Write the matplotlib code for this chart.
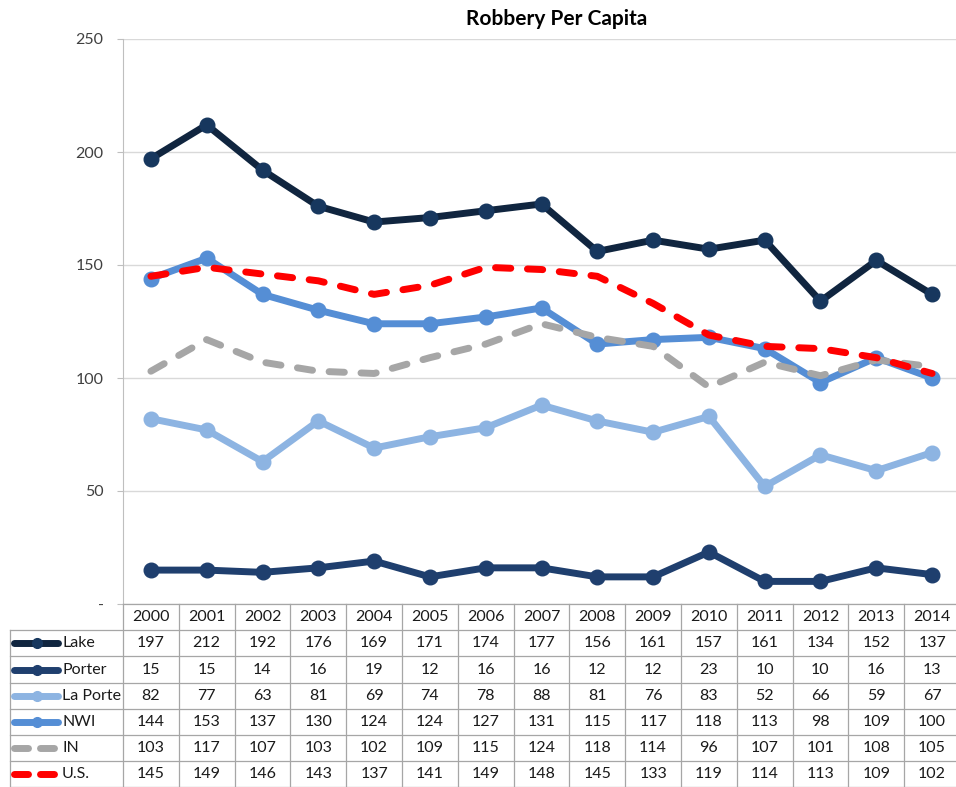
import matplotlib
matplotlib.use("Agg")
import matplotlib.pyplot as plt
from matplotlib.lines import Line2D

plt.rcParams['font.family'] = ['Lato', 'DejaVu Sans']

years = ["2000", "2001", "2002", "2003", "2004", "2005", "2006", "2007",
         "2008", "2009", "2010", "2011", "2012", "2013", "2014"]
lake = [197, 212, 192, 176, 169, 171, 174, 177, 156, 161, 157, 161, 134, 152, 137]
porter = [15, 15, 14, 16, 19, 12, 16, 16, 12, 12, 23, 10, 10, 16, 13]
la_porte = [82, 77, 63, 81, 69, 74, 78, 88, 81, 76, 83, 52, 66, 59, 67]
nwi = [144, 153, 137, 130, 124, 124, 127, 131, 115, 117, 118, 113, 98, 109, 100]
indiana = [103, 117, 107, 103, 102, 109, 115, 124, 118, 114, 96, 107, 101, 108, 105]
us = [145, 149, 146, 143, 137, 141, 149, 148, 145, 133, 119, 114, 113, 109, 102]
series_names = ["Lake", "Porter", "La Porte", "NWI", "IN", "U.S."]
y_ticks = [0, 50, 100, 150, 200, 250]
y_tick_labels = ["-", "50", "100", "150", "200", "250"]

series = [lake, porter, la_porte, nwi, indiana, us]
styles = [
    dict(color="#10253F", marker="o", mfc="#17375E", mec="#17375E", ms=10.5),
    dict(color="#1F3F6E", marker="o", mfc="#1F3F6E", mec="#1F3F6E", ms=10.5),
    dict(color="#8DB4E2", marker="o", mfc="#8DB4E2", mec="#8DB4E2", ms=10.5),
    dict(color="#558ED5", marker="o", mfc="#558ED5", mec="#558ED5", ms=10.5),
    dict(color="#A6A6A6", linestyle=(0, (2.2, 2.4)), dash_capstyle="round"),
    dict(color="#FF0000", linestyle=(0, (2.2, 2.4)), dash_capstyle="round"),
]

W, H = 956, 787
fig = plt.figure(figsize=(W / 100, H / 100), dpi=100)


def fx(px):
    return px / W


def fy(py):
    return 1 - py / H


left, right, top, bottom = 123, 960, 39, 604
ax = fig.add_axes([fx(left), fy(bottom), fx(right - left), fy(top) - fy(bottom)])
n = len(years)
xs = list(range(n))
for vals, st in zip(series, styles):
    ax.plot(xs, vals, lw=5, solid_capstyle="round", solid_joinstyle="round", **st)

ax.set_xlim(-0.5, n - 0.5)
ax.set_ylim(0, 250)
ax.set_yticks(y_ticks)
ax.set_yticklabels(y_tick_labels)
ax.set_xticks([])
ax.tick_params(axis="y", length=4, color="#BFBFBF", labelsize=11.5, labelcolor="#404040", pad=10)
ax.grid(axis="y", color="#D9D9D9", lw=1)
ax.set_axisbelow(True)
for s in ["top", "right", "bottom"]:
    ax.spines[s].set_visible(False)
ax.spines["left"].set_color("#BFBFBF")

fig.text(fx(557), fy(19), "Robbery Per Capita", ha="center", va="center",
         fontsize=15, fontweight="bold", color="#000000")

# data table beneath the plot
col_w = (right - left) / n
header_top, row_h = 604, 26.2
grid_c = "#A6A6A6"
rows_top = header_top + row_h
table_bottom = rows_top + row_h * len(series)


def hline(x0, x1, y):
    fig.add_artist(Line2D([fx(x0), fx(x1)], [fy(y), fy(y)], color=grid_c, lw=0.9))


def vline(x, y0, y1):
    fig.add_artist(Line2D([fx(x), fx(x)], [fy(y0), fy(y1)], color=grid_c, lw=0.9))


hline(left, right, header_top)
for r in range(len(series) + 1):
    hline(10, right, rows_top + r * row_h)
vline(10, rows_top, table_bottom)
for c in range(n + 1):
    vline(left + c * col_w, header_top, table_bottom)

txt_kw = dict(ha="center", va="center", fontsize=11.5, color="#1A1A1A")
for c, yr in enumerate(years):
    fig.text(fx(left + (c + 0.5) * col_w), fy(header_top + row_h / 2), yr, **txt_kw)

for r, (name, vals, st) in enumerate(zip(series_names, series, styles)):
    yc = rows_top + (r + 0.5) * row_h
    key = {k: v for k, v in st.items() if k not in ("marker", "mfc", "mec", "ms")}
    if "marker" in st:
        fig.add_artist(Line2D([fx(14), fx(58)], [fy(yc), fy(yc)], lw=5,
                              solid_capstyle="round", **key))
        fig.add_artist(Line2D([fx(37)], [fy(yc)], marker="o", ms=7,
                              mfc=st["mfc"], mec=st["mec"], linestyle="none"))
    else:
        for a, b in [(14, 28), (40, 54)]:
            fig.add_artist(Line2D([fx(a), fx(b)], [fy(yc), fy(yc)], lw=5,
                                  solid_capstyle="round", color=st["color"]))
    fig.text(fx(62), fy(yc), name, ha="left", va="center", fontsize=11.5, color="#1A1A1A")
    for c, v in enumerate(vals):
        fig.text(fx(left + (c + 0.5) * col_w), fy(yc), str(v), **txt_kw)

fig.savefig("out.png", dpi=100)
